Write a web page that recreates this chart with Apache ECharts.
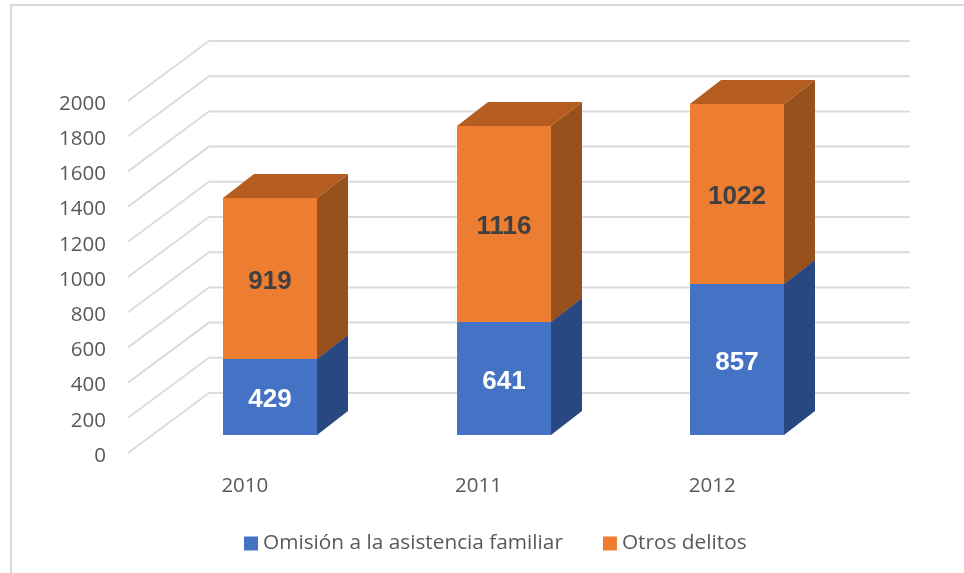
<!DOCTYPE html>
<html>
<head>
<meta charset="utf-8">
<style>
  html, body { margin: 0; padding: 0; background: #fff; }
  #chart { width: 964px; height: 573px; }
</style>
<script src="https://cdn.jsdelivr.net/npm/echarts@6/dist/echarts.min.js"></script>
</head>
<body>
<div id="chart"></div>
<script>
var years = ['2010', '2011', '2012'];
var omision = [429, 641, 857];
var otros = [919, 1116, 1022];
var yTicks = [0, 200, 400, 600, 800, 1000, 1200, 1400, 1600, 1800, 2000];

var textFont = '"Open Sans", sans-serif';
var textColor = '#595959';
var wallColor = '#dcdcdc';

// fake 3d: how far the floor/wall and the bars are pushed back
var wallDx = 81, wallDy = -60;
var barDx = 25, barDy = -18;
var depthX = 31, depthY = -24;
var barWidth = 94;

var chart = echarts.init(document.getElementById('chart'));

function wallItem(params, api) {
  var cs = params.coordSys;
  var y = api.coord([0, api.value(0)])[1];
  return {
    type: 'polyline',
    shape: { points: [
      [cs.x, y],
      [cs.x + wallDx, y + wallDy],
      [cs.x + cs.width + wallDx, y + wallDy]
    ] },
    style: { fill: null, stroke: wallColor, lineWidth: 2 }
  };
}

function boxItem(front, side, top, labelColor) {
  return function (params, api) {
    var low = api.coord([api.value(0), api.value(1)]);
    var high = api.coord([api.value(0), api.value(2)]);
    var x0 = Math.round(low[0] + barDx - barWidth / 2);
    var x1 = x0 + barWidth;
    var y0 = Math.round(low[1] + barDy);
    var y1 = Math.round(high[1] + barDy);
    return {
      type: 'group',
      children: [
        { type: 'polygon', shape: { points: [[x1, y0], [x1 + depthX, y0 + depthY], [x1 + depthX, y1 + depthY], [x1, y1]] }, style: { fill: side } },
        { type: 'polygon', shape: { points: [[x0, y1], [x1, y1], [x1 + depthX, y1 + depthY], [x0 + depthX, y1 + depthY]] }, style: { fill: top } },
        { type: 'rect', shape: { x: x0, y: y1, width: barWidth, height: y0 - y1 }, style: { fill: front } },
        { type: 'text', style: {
          text: String(api.value(2) - api.value(1)),
          x: (x0 + x1) / 2, y: (y0 + y1) / 2 + 3,
          align: 'center', verticalAlign: 'middle',
          font: 'bold 26px "Liberation Sans", Arial, sans-serif',
          fill: labelColor
        } }
      ]
    };
  };
}

chart.setOption({
  animation: false,
  backgroundColor: '#fff',
  graphic: [{
    type: 'polyline',
    shape: { points: [[11, 573], [11, 5], [964, 5]] },
    style: { fill: null, stroke: '#d9d9d9', lineWidth: 2 },
    silent: true
  }],
  grid: { left: 128, top: 101, width: 701, height: 352 },
  legend: {
    data: ['Omisión a la asistencia familiar', 'Otros delitos'],
    left: 239,
    top: 528,
    icon: 'rect',
    itemWidth: 14,
    itemHeight: 14,
    itemGap: 40,
    textStyle: { fontFamily: textFont, fontSize: 20.8, color: textColor }
  },
  xAxis: {
    type: 'category',
    data: years,
    axisLine: { show: false },
    axisTick: { show: false },
    axisLabel: { margin: 23, fontFamily: textFont, fontSize: 20.5, color: textColor }
  },
  yAxis: {
    type: 'value',
    min: 0,
    max: 2000,
    interval: 200,
    splitLine: { show: false },
    axisLine: { show: false },
    axisTick: { show: false },
    axisLabel: {
      margin: 22,
      fontFamily: textFont,
      fontSize: 20.5,
      color: textColor,
      verticalAlign: 'top',
      lineHeight: 6,
      formatter: function (v) { return String(v); }
    }
  },
  series: [
    {
      name: 'walls',
      type: 'custom',
      silent: true,
      renderItem: wallItem,
      data: yTicks.map(function (v) { return [v]; }),
      encode: { y: 0 }
    },
    {
      name: 'Omisión a la asistencia familiar',
      type: 'custom',
      itemStyle: { color: '#4472C4' },
      renderItem: boxItem('#4472C4', '#294780', '#2F5597', '#fff'),
      data: years.map(function (y, i) { return [i, 0, omision[i]]; }),
      encode: { x: 0, y: [1, 2] }
    },
    {
      name: 'Otros delitos',
      type: 'custom',
      itemStyle: { color: '#ED7D31' },
      renderItem: boxItem('#ED7D31', '#98501C', '#B55D20', '#404040'),
      data: years.map(function (y, i) { return [i, omision[i], omision[i] + otros[i]]; }),
      encode: { x: 0, y: [1, 2] }
    }
  ]
});
</script>
</body>
</html>
